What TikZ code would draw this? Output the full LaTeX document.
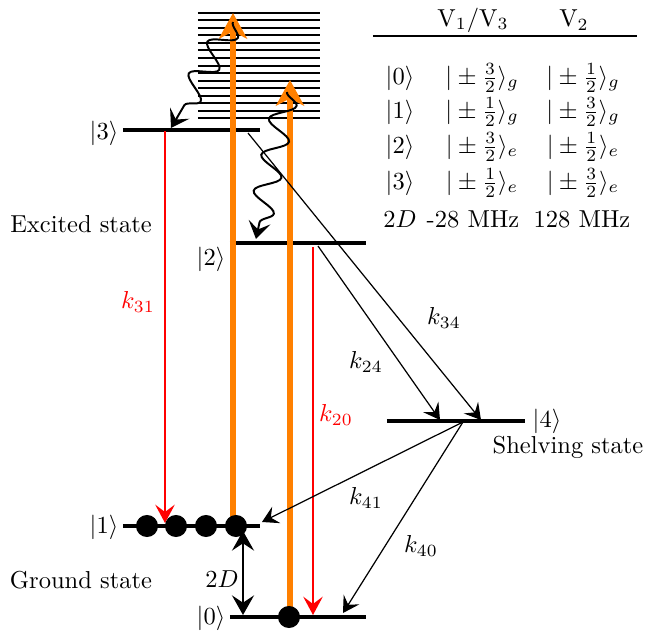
\documentclass[tikz,border=0pt]{standalone}
\usepackage{amsmath}
\usetikzlibrary{arrows.meta,decorations.pathmorphing}
\begin{document}
\begin{tikzpicture}[x=0.408pt,y=-0.408pt,
  lvl/.style={line width=1.6pt},
  cont/.style={line width=0.8pt},
  pump/.style={draw={rgb,255:red,255;green,128;blue,0}, line width=2.6pt,
    -{Stealth[length=10.5pt,width=11.5pt,inset=3pt]}},
  decay/.style={red, line width=0.6pt, -{Stealth[length=7.5pt,width=8pt,inset=3pt]}},
  trans/.style={black, line width=0.5pt, -{Stealth[length=6.5pt,width=7.5pt,inset=2.5pt]}},
  wave/.style={line width=0.8pt, decorate,
    decoration={snake, amplitude=5pt, segment length=15pt, post length=5pt},
    -{Stealth[length=7pt,width=9pt,inset=3pt]}},
  dot/.style={circle, fill=black, inner sep=0pt, minimum size=9pt},
  lab/.style={inner sep=0pt}]
\useasboundingbox (0,0) rectangle (646,631);

% continuum
\foreach \i in {0,...,14}{
  \coordinate (ca\i) at (198,{12.7+7.55*\i});
  \coordinate (cb\i) at (320,{12.7+7.55*\i});
  \draw[cont] (ca\i) -- (cb\i);
}

% levels
\coordinate (l3a) at (123,130); \coordinate (l3b) at (260,130);
\coordinate (l2a) at (230,243); \coordinate (l2b) at (366,243);
\coordinate (l4a) at (387,421); \coordinate (l4b) at (525,421);
\coordinate (l1a) at (123,526); \coordinate (l1b) at (260,526);
\coordinate (l0a) at (230,617); \coordinate (l0b) at (366,617);
\draw[lvl] (l3a) -- (l3b);
\draw[lvl] (l2a) -- (l2b);
\draw[lvl] (l4a) -- (l4b);
\draw[lvl] (l1a) -- (l1b);
\draw[lvl] (l0a) -- (l0b);

% state labels
\node[lab] (k3) at (104,133) {$|3\rangle$};
\node[lab] (k2) at (211,259) {$|2\rangle$};
\node[lab] (k4) at (547,421) {$|4\rangle$};
\node[lab] (k1) at (104,527) {$|1\rangle$};
\node[lab] (k0) at (211,618) {$|0\rangle$};
\node[lab] (exc) at (81,224) {Excited state};
\node[lab] (gnd) at (81,580) {Ground state};
\node[lab] (shl) at (568,447) {Shelving state};

% pump arrows
\coordinate (p1s) at (233,526); \coordinate (p1e) at (233,13);
\coordinate (p2s) at (290,617); \coordinate (p2e) at (290,80);
\draw[pump] (p1s) -- (p1e);
\draw[pump] (p2s) -- (p2e);

% wavy relaxations
\coordinate (w1s) at (233,22); \coordinate (w1e) at (171,128);
\coordinate (w2s) at (287,92); \coordinate (w2e) at (256,239);
\draw[wave] (w1s) -- (w1e);
\draw[wave] (w2s) -- (w2e);

% red decays
\coordinate (r31s) at (165,131); \coordinate (r31e) at (165,523);
\coordinate (r20s) at (313,247); \coordinate (r20e) at (313,615);
\draw[decay] (r31s) -- (r31e);
\draw[decay] (r20s) -- (r20e);
\node[lab, red] (k31) at (138,302) {$k_{31}$};
\node[lab, red] (k20) at (336,415) {$k_{20}$};

% black transitions
\coordinate (t24s) at (318,246); \coordinate (t24e) at (440,420);
\coordinate (t34s) at (248,133); \coordinate (t34e) at (481,420);
\coordinate (t4s) at (463,422);
\coordinate (t41e) at (262,522); \coordinate (t40e) at (343,613);
\draw[trans] (t24s) -- (t24e);
\draw[trans] (t34s) -- (t34e);
\draw[trans] (t4s) -- (t41e);
\draw[trans] (t4s) -- (t40e);
\node[lab] (k24) at (366,362) {$k_{24}$};
\node[lab] (k34) at (444,318) {$k_{34}$};
\node[lab] (k41) at (366,498) {$k_{41}$};
\node[lab] (k40) at (421,546) {$k_{40}$};

% dots
\node[dot] (d1) at (147,526) {};
\node[dot] (d2) at (176,526) {};
\node[dot] (d3) at (206,526) {};
\node[dot] (d4) at (236,526) {};
\node[dot] (d0) at (289,617) {};

% 2D splitting
\coordinate (sa) at (243,531); \coordinate (sb) at (243,615);
\draw[line width=1pt, {Stealth[length=8pt,width=9pt,inset=3pt]}-{Stealth[length=8pt,width=9pt,inset=3pt]}] (sa) -- (sb);
\node[lab] (twoD) at (222,579) {$2D$};

% table
\node[lab] (h1) at (473,20) {$\mathrm{V}_1/\mathrm{V}_3$};
\node[lab] (h2) at (574,20) {$\mathrm{V}_2$};
\coordinate (ra) at (373,36); \coordinate (rb) at (637,36);
\draw[line width=0.8pt] (ra) -- (rb);
\node[lab] (s0) at (400,78) {$|0\rangle$};
\node[lab] (s1) at (400,112) {$|1\rangle$};
\node[lab] (s2) at (400,147) {$|2\rangle$};
\node[lab] (s3) at (400,183) {$|3\rangle$};
\node[lab] (a0) at (482,78) {$|\pm\frac{3}{2}\rangle_g$};
\node[lab] (a1) at (482,112) {$|\pm\frac{1}{2}\rangle_g$};
\node[lab] (a2) at (482,147) {$|\pm\frac{3}{2}\rangle_e$};
\node[lab] (a3) at (482,183) {$|\pm\frac{1}{2}\rangle_e$};
\node[lab] (b0) at (583,78) {$|\pm\frac{1}{2}\rangle_g$};
\node[lab] (b1) at (583,112) {$|\pm\frac{3}{2}\rangle_g$};
\node[lab] (b2) at (583,147) {$|\pm\frac{1}{2}\rangle_e$};
\node[lab] (b3) at (583,183) {$|\pm\frac{3}{2}\rangle_e$};
\node[lab] (dD) at (400,219) {$2D$};
\node[lab] (d28) at (473,219) {-28 MHz};
\node[lab] (d128) at (582,219) {128 MHz};
\end{tikzpicture}
\end{document}
